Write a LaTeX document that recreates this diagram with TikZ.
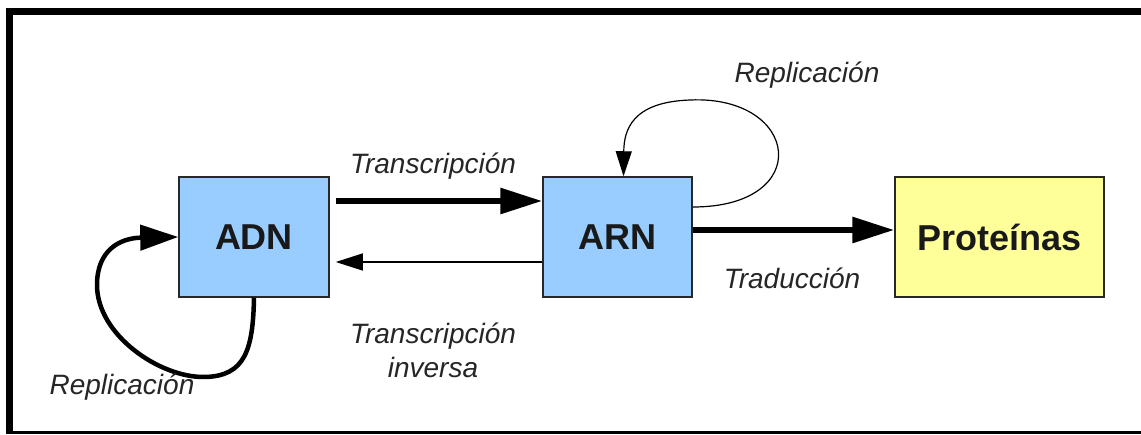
\documentclass[tikz,border=0pt]{standalone}
\usepackage{fontspec}
\setmainfont{Liberation Sans}
\usetikzlibrary{arrows.meta}
\definecolor{boxblue}{RGB}{153,204,255}
\definecolor{boxyellow}{RGB}{255,255,153}
\definecolor{boxedge}{RGB}{40,40,40}
\tikzset{
  box/.style={draw=boxedge, line width=1.5pt, minimum height=120pt, inner sep=0pt,
              font=\fontsize{36pt}{40pt}\selectfont\bfseries, text=black!90},
  lbl/.style={font=\fontsize{28pt}{34pt}\selectfont\itshape, text=black!85, inner sep=0pt, align=center},
  bigarrow/.style={line width=6pt, -{Triangle[length=42pt,width=25pt]}},
  thinarrow/.style={line width=1.2pt, -{Triangle[length=27pt,width=17pt]}},
  loopthick/.style={line width=4.5pt, -{Triangle[length=38pt,width=25pt]}},
  loopthin/.style={line width=1.2pt, -{Triangle[length=25pt,width=16pt]}},
}
\begin{document}
\begin{tikzpicture}[x=1pt,y=-1pt]
\useasboundingbox (0,0) rectangle (1141,435);
\fill[white] (0,0) rectangle (1141,435);
% frame
\fill[black] (6,8) rectangle (1141,15);
\fill[black] (6,8) rectangle (13,434);
\fill[black] (6,431) rectangle (1141,434);

\node[box, fill=boxblue, minimum width=150pt] (adn) at (254,237) {ADN};
\node[box, fill=boxblue, minimum width=149pt] (arn) at (617.5,237) {ARN};
\node[box, fill=boxyellow, minimum width=209pt] (prot) at (999.5,237) {Prote\'{\i}nas};

% transcription
\draw[bigarrow] (adn.east |- 0,201) ++(6,0) coordinate (t0) -- (arn.west |- t0);
\draw[thinarrow] (arn.west |- 0,262) -- ([xshift=6pt]adn.east |- 0,262);
\draw[bigarrow] (arn.east |- 0,230) -- (prot.west |- 0,230);

% ADN replication loop
\draw[loopthick] (adn.south) .. controls (253,350) and (245,376) .. (205,377)
   .. controls (160,378) and (97,335) .. (97,285)
   .. controls (97,250) and (120,238) .. (adn.west);

% ARN replication loop
\draw[loopthin] (arn.east |- 0,207) .. controls (815,207) and (800,95) .. (690,100)
   .. controls (632,102) and (624,130) .. ([xshift=6pt]arn.north);

% labels
\node[lbl] (l1) at (433,166) {Transcripción};
\node[lbl, font=\fontsize{28pt}{34pt}\selectfont\itshape] (l2) at (433,350) {Transcripción\\inversa};
\node[lbl] (l3) at (792,278) {Traducción};
\node[lbl] (l4) at (807,75) {Replicación};
\node[lbl] (l5) at (122,387) {Replicación};
\end{tikzpicture}
\end{document}
